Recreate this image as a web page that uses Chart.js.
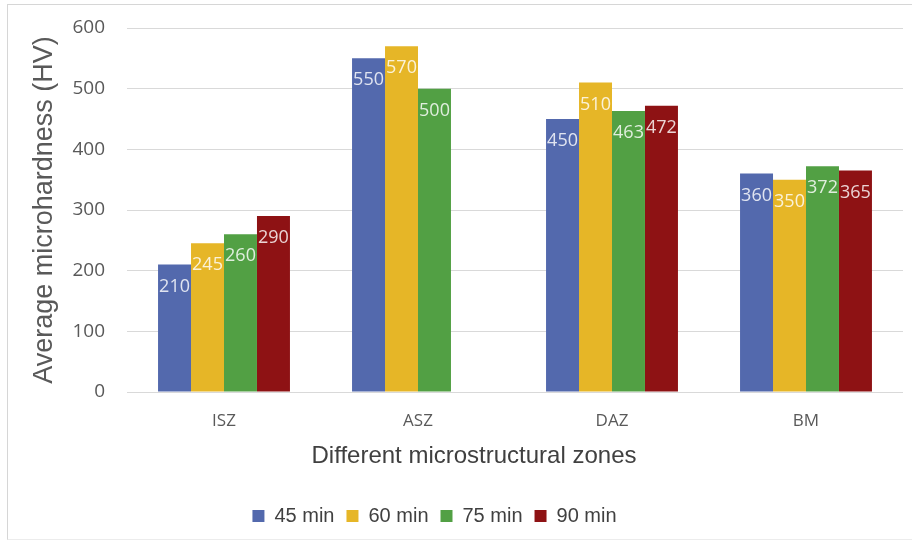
<!DOCTYPE html>
<html>
<head>
<meta charset="utf-8">
<script src="https://cdn.jsdelivr.net/npm/chart.js@4/dist/chart.umd.min.js"></script>
<style>
  body { margin: 0; background: #fff; }
  #frame { position: absolute; left: 7px; top: 4px; width: 910px; height: 534px; border-top: 1px solid #d6d6d6; border-left: 1px solid #d6d6d6; border-bottom: 1px solid #ececec; }
  #hard { position: absolute; left: 0; top: 0; }
</style>
</head>
<body>
<div id="frame"></div>
<canvas id="hard" width="912" height="541"></canvas>
<script>
const zones = ["ISZ", "ASZ", "DAZ", "BM"];
const min45 = [210, 550, 450, 360];
const min60 = [245, 570, 510, 350];
const min75 = [260, 500, 463, 372];
const min90 = [290, null, 472, 365];
const yTicks = [0, 100, 200, 300, 400, 500, 600];

const barColors = ["#5369ad", "#e6b627", "#52a044", "#8e1214"];

// values written at the top inside each bar
const barLabels = {
  id: "barLabels",
  afterDatasetsDraw(chart) {
    const ctx = chart.ctx;
    ctx.save();
    ctx.font = "18px 'Open Sans'";
    ctx.fillStyle = "rgba(255,255,255,0.82)";
    ctx.textAlign = "center";
    ctx.textBaseline = "middle";
    chart.data.datasets.forEach(function(ds, i) {
      chart.getDatasetMeta(i).data.forEach(function(bar, j) {
        if (ds.data[j] == null) return;
        ctx.fillText(ds.data[j], bar.x, bar.y + 22);
      });
    });
    ctx.restore();
  }
};

// x axis title, sits left of the plot centre in the original
const xTitle = {
  id: "xTitle",
  afterDraw(chart) {
    const ctx = chart.ctx;
    ctx.save();
    ctx.font = "24px 'Liberation Sans'";
    ctx.fillStyle = "#404040";
    ctx.textAlign = "center";
    ctx.textBaseline = "middle";
    ctx.fillText("Different microstructural zones", chart.chartArea.left + 347, chart.chartArea.bottom + 64);
    ctx.restore();
  }
};

new Chart("hard", {
  type: "bar",
  data: {
    labels: zones,
    datasets: [
      { label: "45 min", data: min45, backgroundColor: barColors[0] },
      { label: "60 min", data: min60, backgroundColor: barColors[1] },
      { label: "75 min", data: min75, backgroundColor: barColors[2] },
      { label: "90 min", data: min90, backgroundColor: barColors[3] }
    ]
  },
  options: {
    responsive: false,
    animation: false,
    layout: { padding: { top: 28, right: 9, bottom: 5, left: 0 } },
    datasets: { bar: { barPercentage: 1, categoryPercentage: 0.68 } },
    plugins: {
      tooltip: { enabled: false },
      legend: {
        position: "bottom",
        labels: {
          color: "#404040",
          font: { family: "'Liberation Sans'", size: 20 },
          boxWidth: 12,
          boxHeight: 12,
          padding: 12,
          // blank item at the end so the row sits a little left, as in the original
          generateLabels: function(chart) {
            const items = Chart.defaults.plugins.legend.labels.generateLabels(chart);
            items.push({ text: "", fillStyle: "rgba(0,0,0,0)", strokeStyle: "rgba(0,0,0,0)", lineWidth: 0, hidden: false, datasetIndex: -1 });
            return items;
          }
        }
      }
    },
    scales: {
      x: {
        grid: { display: false },
        border: { display: false },
        ticks: { color: "#595959", font: { family: "'Open Sans'", size: 17 }, padding: 11 },
        afterFit: function(s) { s.height = 102; }
      },
      y: {
        min: 0,
        max: 600,
        afterBuildTicks: function(s) { s.ticks = yTicks.map(v => ({ value: v })); },
        grid: { color: "#d9d9d9", drawTicks: false },
        border: { display: false },
        ticks: { color: "#595959", font: { family: "'Open Sans'", size: 19 }, padding: 22 },
        title: {
          display: true,
          text: "Average microhardness (HV)",
          color: "#595959",
          font: { family: "'Liberation Sans'", size: 27 },
          padding: { top: 28, bottom: 0 }
        },
        afterFit: function(s) {
          s.width = 127;
          s.paddingTop = 0;
          s.paddingBottom = 0;
        }
      }
    }
  },
  plugins: [barLabels, xTitle]
});
</script>
</body>
</html>
